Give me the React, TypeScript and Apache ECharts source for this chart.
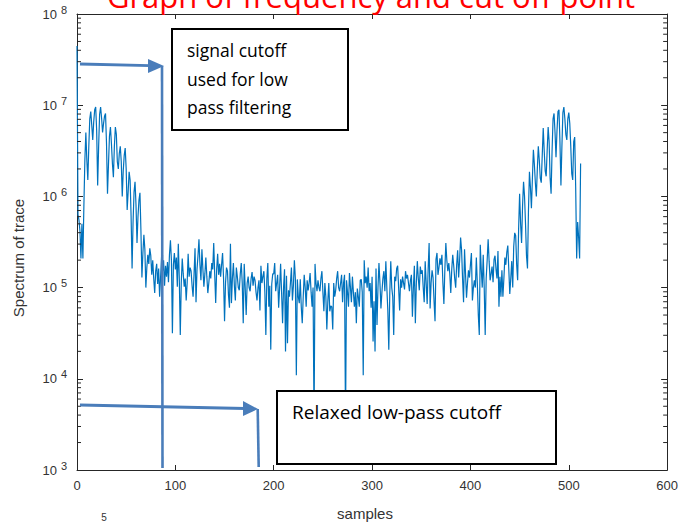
import { useEffect, useRef } from "react";
import * as echarts from "echarts";

// Magnitude spectrum of the trace, stored as log10(|X|) per sample (0..512)
const spectrumLog10: number[] = [
  7.65, 5.80, 5.74, 5.62, 5.32, 5.70, 5.32, 5.90, 6.40, 6.70,
  6.40, 6.18, 6.55, 6.85, 6.93, 6.78, 6.62, 6.82, 6.95, 6.98,
  6.72, 6.12, 6.55, 6.90, 6.98, 6.86, 6.70, 6.80, 6.88, 6.91,
  6.58, 6.03, 6.35, 6.66, 6.76, 6.58, 6.36, 6.21, 6.55, 6.76,
  6.68, 6.38, 6.30, 6.47, 6.55, 6.38, 6.00, 6.28, 6.45, 6.53,
  6.30, 5.85, 6.05, 6.27, 6.18, 5.78, 5.21, 5.72, 6.05, 6.16,
  5.90, 5.49, 5.78, 5.96, 6.04, 5.62, 5.11, 5.38, 5.58, 5.42,
  5.00, 5.22, 5.36, 5.26, 5.43, 5.35, 5.14, 5.30, 5.10, 4.94,
  5.18, 5.26, 5.04, 5.21, 4.90, 5.12, 5.34, 5.18, 5.30, 5.02,
  5.24, 5.12, 5.28, 5.06, 5.36, 5.52, 5.30, 4.50, 5.25, 5.38,
  5.20, 5.33, 5.01, 5.48, 5.10, 4.48, 5.05, 5.32, 5.15, 5.01,
  5.10, 4.86, 5.05, 5.37, 5.12, 5.22, 5.18, 5.02, 4.90, 5.15,
  5.43, 4.84, 5.20, 5.35, 5.53, 5.25, 5.08, 5.42, 5.20, 5.01,
  5.15, 5.33, 5.12, 4.94, 5.05, 5.18, 5.10, 5.27, 5.20, 5.49,
  5.15, 4.83, 5.20, 5.37, 5.14, 5.26, 5.12, 5.25, 5.38, 5.10,
  4.63, 5.05, 5.22, 5.18, 4.92, 4.78, 5.48, 4.83, 5.10, 5.27,
  5.02, 4.86, 5.22, 5.12, 5.00, 4.97, 5.15, 5.27, 5.05, 4.61,
  5.26, 5.00, 4.70, 5.05, 5.12, 5.00, 4.96, 5.10, 5.17, 5.02,
  5.12, 5.08, 4.95, 4.86, 5.00, 5.08, 4.75, 5.24, 5.05, 5.12,
  5.18, 4.95, 4.48, 5.10, 5.27, 4.79, 5.02, 4.32, 5.04, 5.15,
  5.15, 5.27, 4.96, 5.05, 5.14, 4.78, 5.00, 5.26, 4.95, 4.61,
  5.00, 5.20, 4.30, 5.13, 4.39, 4.97, 4.90, 5.05, 5.22, 4.86,
  5.02, 5.30, 5.10, 4.04, 5.09, 4.90, 4.83, 5.09, 4.79, 4.61,
  4.90, 5.14, 5.00, 4.79, 5.08, 4.97, 5.05, 5.16, 4.95, 4.79,
  5.00, 3.50, 5.26, 5.05, 4.96, 5.08, 5.00, 4.96, 5.10, 5.18,
  4.95, 4.74, 5.05, 4.90, 4.54, 4.85, 5.05, 4.74, 4.80, 4.79,
  4.54, 5.05, 4.90, 4.97, 5.10, 5.18, 5.00, 4.96, 5.05, 5.14,
  4.84, 5.05, 5.14, 3.50, 5.08, 4.95, 4.79, 5.16, 5.00, 4.84,
  5.12, 4.95, 4.79, 4.95, 4.61, 4.99, 4.90, 4.79, 5.08, 5.09,
  4.95, 4.04, 5.30, 5.05, 5.12, 5.00, 5.22, 4.96, 5.05, 4.78,
  5.12, 4.41, 4.85, 4.30, 5.21, 4.59, 5.00, 5.27, 5.05, 4.77,
  4.95, 5.10, 5.18, 4.96, 5.29, 5.00, 4.75, 4.32, 4.94, 5.29,
  5.00, 4.90, 4.48, 5.12, 5.07, 5.21, 5.24, 5.00, 4.75, 5.09,
  5.00, 5.12, 5.05, 4.98, 5.18, 5.10, 5.14, 5.05, 4.96, 5.08,
  5.14, 4.68, 5.00, 5.24, 4.61, 5.05, 5.29, 5.10, 4.97, 5.23,
  5.15, 5.19, 5.00, 4.84, 5.29, 5.05, 4.82, 5.20, 5.49, 4.77,
  5.05, 5.19, 5.11, 4.85, 4.63, 5.31, 5.38, 5.14, 5.22, 5.32,
  5.25, 5.36, 5.05, 4.82, 5.20, 5.49, 5.30, 5.18, 5.27, 5.15,
  4.94, 5.20, 5.36, 5.24, 5.10, 5.00, 5.25, 5.41, 5.11, 5.30,
  5.55, 5.41, 5.10, 4.84, 5.42, 5.15, 4.89, 5.05, 5.19, 5.11,
  5.25, 5.38, 4.86, 5.00, 5.08, 5.00, 5.33, 5.05, 4.70, 4.48,
  5.47, 5.20, 5.00, 5.36, 5.00, 4.48, 5.10, 5.30, 5.53, 5.29,
  5.08, 5.15, 5.23, 5.06, 5.31, 5.35, 5.20, 5.10, 5.40, 4.79,
  5.12, 4.90, 5.19, 4.90, 5.10, 5.33, 5.25, 5.39, 5.46, 5.20,
  4.93, 5.10, 5.29, 5.00, 5.45, 5.60, 5.57, 5.25, 5.08, 5.65,
  6.03, 5.70, 5.49, 5.90, 6.16, 6.00, 5.70, 5.35, 5.21, 5.85,
  6.27, 6.10, 5.87, 6.20, 6.51, 6.35, 6.15, 6.00, 6.30, 6.55,
  6.40, 6.20, 6.15, 6.45, 6.75, 6.50, 6.28, 6.22, 6.50, 6.76,
  6.60, 6.20, 6.03, 6.50, 6.85, 6.91, 6.70, 6.43, 6.72, 6.93,
  6.95, 6.60, 6.12, 6.55, 6.92, 6.98, 6.85, 6.68, 6.62, 6.85,
  6.92, 6.80, 6.55, 6.25, 6.18, 6.60, 6.65, 6.10, 5.32, 5.72,
  5.55, 5.32, 6.36,
];

// Axis ranges and tick spacing
const xRange = [0, 600];
const xTickStep = 100;
const yDecades = [3, 4, 5, 6, 7, 8];
const minorMantissas = [2, 3, 4, 5, 6, 7, 8, 9];

const titleText = "Graph of frequency and cut off point";
const xTitle = "samples";
const yTitle = "Spectrum of trace";
const noteUpper = ["signal cutoff", "used for low", "pass filtering"];
const noteLower = "Relaxed low-pass cutoff";

const axisColor = "#262626";
const labelColor = "#333333";
const lineColor = "#0072BD";
const arrowColor = "#4a7dba";
const axisFont = "'Liberation Sans', Arial, sans-serif";
const noteFont = "'Open Sans', sans-serif";

export default function App() {
  const ref = useRef<HTMLDivElement>(null);

  useEffect(() => {
    if (!ref.current) return;
    const chart = echarts.init(ref.current, null, { renderer: "svg" });

    const lineData = spectrumLog10.map((v, i) => [i, Math.pow(10, v)]);
    const yMin = Math.pow(10, yDecades[0]);
    const yMax = Math.pow(10, yDecades[yDecades.length - 1]);

    const minorTicks: number[][] = [];
    for (let k = 0; k < yDecades.length - 1; k++) {
      for (const m of minorMantissas) {
        minorTicks.push([xRange[0], m * Math.pow(10, yDecades[k])]);
      }
    }

    const axisLine = { show: true, onZero: false, lineStyle: { color: axisColor, width: 1 } };

    const option: any = {
      animation: false,
      backgroundColor: "#ffffff",
      grid: { left: 77, right: 9, top: 14, bottom: 53, containLabel: false },
      xAxis: [
        {
          type: "value",
          position: "bottom",
          min: xRange[0],
          max: xRange[1],
          interval: xTickStep,
          axisLine,
          axisTick: { show: true, inside: true, length: 5, lineStyle: { color: axisColor } },
          axisLabel: { show: true, margin: 9, color: labelColor, fontSize: 13, fontFamily: axisFont },
          splitLine: { show: false },
        },
        {
          type: "value",
          position: "top",
          min: xRange[0],
          max: xRange[1],
          interval: xTickStep,
          axisLine,
          axisTick: { show: true, inside: true, length: 5, lineStyle: { color: axisColor } },
          axisLabel: { show: false },
          splitLine: { show: false },
        },
      ],
      yAxis: [
        {
          type: "log",
          logBase: 10,
          position: "left",
          min: yMin,
          max: yMax,
          axisLine,
          axisTick: { show: true, inside: true, length: 6, lineStyle: { color: axisColor } },
          axisLabel: {
            show: true,
            margin: 10,
            formatter: (val: number) => `{b|10}{e|${Math.round(Math.log10(val))}}`,
            rich: {
              b: { fontSize: 13, color: labelColor, fontFamily: axisFont },
              e: { fontSize: 11, color: labelColor, fontFamily: axisFont, padding: [0, 0, 9, 4] },
            },
          },
          splitLine: { show: false },
        },
        {
          type: "log",
          logBase: 10,
          position: "right",
          min: yMin,
          max: yMax,
          axisLine,
          axisTick: { show: true, inside: true, length: 6, lineStyle: { color: axisColor } },
          axisLabel: { show: false },
          splitLine: { show: false },
        },
      ],
      series: [
        {
          type: "line",
          data: lineData,
          xAxisIndex: 0,
          yAxisIndex: 0,
          symbol: "none",
          showSymbol: false,
          lineStyle: { color: lineColor, width: 1.2 },
          z: 2,
        },
        {
          // minor ticks of the log axis on both the left and right frame edges
          type: "custom",
          data: minorTicks,
          xAxisIndex: 0,
          yAxisIndex: 0,
          silent: true,
          clip: false,
          z: 3,
          encode: { x: 0, y: 1 },
          renderItem: (_params: any, api: any) => {
            const v = api.value(1);
            const l = api.coord([xRange[0], v]);
            const r = api.coord([xRange[1], v]);
            const st = { stroke: axisColor, lineWidth: 1 };
            return {
              type: "group",
              children: [
                { type: "line", shape: { x1: l[0], y1: l[1], x2: l[0] + 4, y2: l[1] }, style: st },
                { type: "line", shape: { x1: r[0], y1: r[1], x2: r[0] - 4, y2: r[1] }, style: st },
              ],
            };
          },
        },
      ],
      graphic: [
        // chart title (partly above the canvas)
        {
          type: "text",
          x: 371,
          y: -4,
          z: 100,
          style: {
            text: titleText,
            fill: "#ff0000",
            fontSize: 31,
            fontFamily: noteFont,
            align: "center",
            verticalAlign: "middle",
          },
        },
        // axis titles
        {
          type: "text",
          x: 365,
          y: 513,
          z: 100,
          style: { text: xTitle, fill: labelColor, fontSize: 15, fontFamily: axisFont, align: "center", verticalAlign: "middle" },
        },
        {
          type: "text",
          x: 18,
          y: 258,
          rotation: Math.PI / 2,
          z: 100,
          style: { text: yTitle, fill: labelColor, fontSize: 15, fontFamily: axisFont, align: "center", verticalAlign: "middle" },
        },
        {
          type: "text",
          x: 104,
          y: 517,
          z: 100,
          style: { text: "5", fill: labelColor, fontSize: 10, fontFamily: axisFont, align: "center", verticalAlign: "middle" },
        },
        // upper cutoff arrow
        { type: "line", z: 100, shape: { x1: 80, y1: 64, x2: 150, y2: 65.6 }, style: { stroke: arrowColor, lineWidth: 2.8 } },
        { type: "polygon", z: 100, shape: { points: [[148, 59], [164, 66], [148, 73]] }, style: { fill: arrowColor } },
        { type: "line", z: 100, shape: { x1: 162, y1: 66, x2: 162.5, y2: 468 }, style: { stroke: arrowColor, lineWidth: 2.6 } },
        // relaxed cutoff arrow
        { type: "line", z: 100, shape: { x1: 80, y1: 405, x2: 245, y2: 408.5 }, style: { stroke: arrowColor, lineWidth: 2.8 } },
        { type: "polygon", z: 100, shape: { points: [[243, 401], [258, 409], [243, 416]] }, style: { fill: arrowColor } },
        { type: "line", z: 100, shape: { x1: 257.7, y1: 409, x2: 258.7, y2: 467 }, style: { stroke: arrowColor, lineWidth: 2.6 } },
        // note boxes
        {
          type: "rect",
          z: 100,
          shape: { x: 172, y: 29, width: 176, height: 101 },
          style: { fill: "#ffffff", stroke: "#000000", lineWidth: 2 },
        },
        ...noteUpper.map((t, i) => ({
          type: "text",
          x: 187,
          y: 50 + i * 28.5,
          z: 101,
          style: { text: t, fill: "#000000", fontSize: 17.5, fontFamily: noteFont, align: "left", verticalAlign: "middle" },
        })),
        {
          type: "rect",
          z: 100,
          shape: { x: 277, y: 391, width: 279, height: 73 },
          style: { fill: "#ffffff", stroke: "#000000", lineWidth: 2 },
        },
        {
          type: "text",
          x: 292,
          y: 412,
          z: 101,
          style: { text: noteLower, fill: "#000000", fontSize: 19, fontFamily: noteFont, align: "left", verticalAlign: "middle" },
        },
      ],
    };

    chart.setOption(option);
    return () => chart.dispose();
  }, []);

  return (
    <div
      ref={ref}
      style={{ position: "absolute", left: 0, top: 0, width: 681, height: 523, background: "#fff" }}
    />
  );
}
